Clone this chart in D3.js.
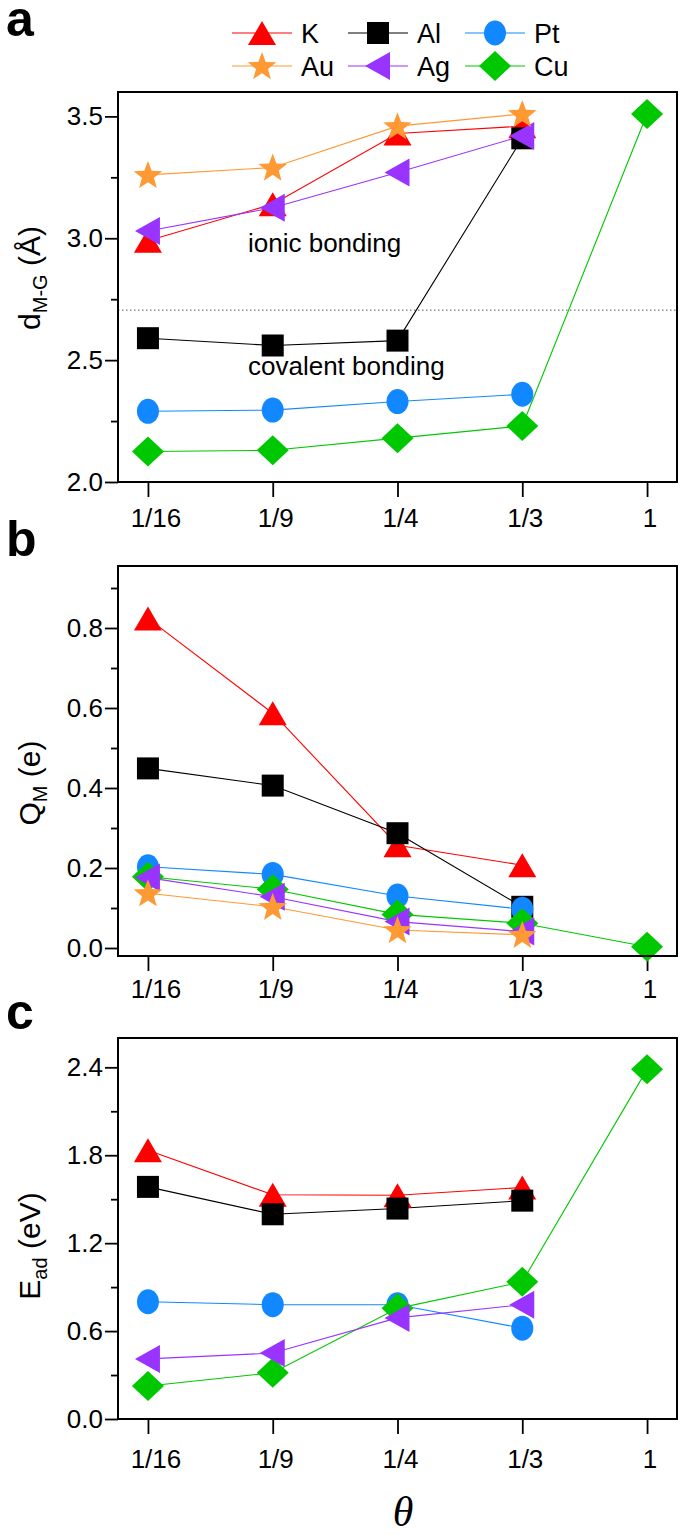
<!DOCTYPE html>
<html><head><meta charset="utf-8">
<script src="https://cdn.jsdelivr.net/npm/d3@7"></script>
<style>
body{margin:0;background:#fff;}
svg{display:block;font-family:"Liberation Sans",Arial,sans-serif;}
</style></head>
<body>
<svg id="chart" width="685" height="1535"></svg>
<script>
// ---- data ----
const categories = ["1/16", "1/9", "1/4", "1/3", "1"];
const seriesNames = ["K", "Al", "Pt", "Au", "Ag", "Cu"];
const seriesColors = ["#ff0000", "#000000", "#1188ff", "#ff9933", "#9933ff", "#00c800"];
const seriesShapes = ["triUp", "square", "circle", "star", "triLeft", "diamond"];

// panel a: d_M-G (Å)
const dK  = [2.99, 3.14, 3.43, 3.46, null];
const dAl = [2.59, 2.56, 2.58, 3.41, null];
const dPt = [2.29, 2.295, 2.33, 2.36, null];
const dAu = [3.26, 3.29, 3.46, 3.51, null];
const dAg = [3.03, 3.125, 3.27, 3.42, null];
const dCu = [2.125, 2.13, 2.18, 2.23, 3.51];

// panel b: Q_M (e)
const qK  = [0.824, 0.587, 0.257, 0.207, null];
const qAl = [0.449, 0.406, 0.287, 0.103, null];
const qPt = [0.203, 0.184, 0.130, 0.097, null];
const qAu = [0.137, 0.103, 0.045, 0.033, null];
const qAg = [0.176, 0.128, 0.066, 0.041, null];
const qCu = [0.178, 0.147, 0.084, 0.062, 0.003];

// panel c: E_ad (eV)
const eK  = [1.834, 1.53, 1.527, 1.58, null];
const eAl = [1.584, 1.397, 1.436, 1.49, null];
const ePt = [0.80, 0.78, 0.78, 0.62, null];
const eAu = [null, null, null, null, null];
const eAg = [0.41, 0.45, 0.69, 0.78, null];
const eCu = [0.225, 0.316, 0.755, 0.936, 2.386];

const ticksA = [2.0, 2.5, 3.0, 3.5], minorA = [2.25, 2.75, 3.25];
const ticksB = [0.0, 0.2, 0.4, 0.6, 0.8], minorB = [0.1, 0.3, 0.5, 0.7, 0.9];
const ticksC = [0.0, 0.6, 1.2, 1.8, 2.4], minorC = [0.3, 0.9, 1.5, 2.1];

// ---- drawing ----
const svg = d3.select("#chart");
const FONT = "'Liberation Sans', Arial, sans-serif";
const xLeft = 118, xRight = 677;
const x = d3.scalePoint().domain(categories).range([xLeft, xRight]).padding(0.24);

function shapePath(shape) {
  switch (shape) {
    case "triUp": return "M0,-12L14,12L-14,12Z";
    case "square": return "M-11,-11H11V11H-11Z";
    case "triLeft": return "M-13,0L12,-14L12,14Z";
    case "diamond": return "M0,-15L16,0L0,15L-16,0Z";
    case "circle": return "M-11,0A11,12.5 0 1,0 11,0A11,12.5 0 1,0 -11,0Z";
    case "star": {
      const pts = [];
      for (let i = 0; i < 10; i++) {
        const r = i % 2 === 0 ? 15 : 6.3;
        const a = -Math.PI / 2 + i * Math.PI / 5;
        pts.push([r * Math.cos(a), r * Math.sin(a) + 1]);
      }
      return "M" + pts.map(p => p[0].toFixed(2) + "," + p[1].toFixed(2)).join("L") + "Z";
    }
  }
}

const panels = [
  {label: "a", labelY: 36, top: 92, bottom: 482, domain: [2.0, 3.6], ticks: ticksA, minor: minorA, fmt: d3.format(".1f"),
   data: [dK, dAl, dPt, dAu, dAg, dCu], xLabY: 527, titleY: 278,
   title: [["d", null], ["M-G", "sub"], [" (Å)", null]]},
  {label: "b", labelY: 556, top: 566, bottom: 956, domain: [-0.02, 0.955], ticks: ticksB, minor: minorB, fmt: d3.format(".1f"),
   data: [qK, qAl, qPt, qAu, qAg, qCu], xLabY: 998, titleY: 783,
   title: [["Q", null], ["M", "sub"], [" (e)", null]]},
  {label: "c", labelY: 1029, top: 1038, bottom: 1419, domain: [0, 2.6], ticks: ticksC, minor: minorC, fmt: d3.format(".1f"),
   data: [eK, eAl, ePt, eAu, eAg, eCu], xLabY: 1468, titleY: 1246,
   title: [["E", null], ["ad", "sub"], [" (eV)", null]]}
];

const drawOrder = [0, 1, 2, 5, 4, 3];

panels.forEach(p => {
  const y = d3.scaleLinear().domain(p.domain).range([p.bottom, p.top]);
  const g = svg.append("g");

  // panel letter
  svg.append("text").attr("x", 6).attr("y", p.labelY).attr("font-size", 50).attr("font-weight", "bold")
    .attr("font-family", FONT).text(p.label);

  // y axis major
  const yAxis = d3.axisLeft(y).tickValues(p.ticks).tickFormat(p.fmt).tickSize(13).tickSizeOuter(0).tickPadding(2);
  const ya = g.append("g").attr("transform", `translate(${xLeft},0)`).call(yAxis);
  ya.select(".domain").remove();
  ya.selectAll("line").attr("stroke", "#000").attr("stroke-width", 1.8);
  ya.selectAll("text").attr("font-size", 26).attr("font-family", FONT).attr("fill", "#000");
  // y minor
  const ym = g.append("g").attr("transform", `translate(${xLeft},0)`)
    .call(d3.axisLeft(y).tickValues(p.minor).tickFormat("").tickSize(7).tickSizeOuter(0));
  ym.select(".domain").remove();
  ym.selectAll("line").attr("stroke", "#000").attr("stroke-width", 1.8);

  // x axis
  const xa = g.append("g").attr("transform", `translate(0,${p.bottom})`)
    .call(d3.axisBottom(x).tickSize(15).tickSizeOuter(0).tickFormat(""));
  xa.select(".domain").remove();
  xa.selectAll("line").attr("stroke", "#000").attr("stroke-width", 1.8);
  g.selectAll(".xlab").data(categories).join("text")
    .attr("x", d => x(d) + (d === "1/16" ? 8 : 3)).attr("y", p.xLabY)
    .attr("text-anchor", "middle").attr("font-size", 26).attr("font-family", FONT).text(d => d);

  // y title
  const t = g.append("text").attr("transform", `translate(40,${p.titleY}) rotate(-90)`)
    .attr("text-anchor", "middle").attr("font-size", 30).attr("font-family", FONT);
  p.title.forEach(([s, kind]) => {
    const ts = t.append("tspan").text(s);
    if (kind === "sub") ts.attr("font-size", 20).attr("dy", 7);
    else if (s.startsWith(" ")) ts.attr("dy", -7);
  });

  // annotations (panel a)
  if (p.label === "a") {
    g.append("line").attr("x1", xLeft).attr("x2", xRight).attr("y1", y(2.705)).attr("y2", y(2.705))
      .attr("stroke", "#555").attr("stroke-width", 1).attr("stroke-dasharray", "1.5,2.5");
    g.append("text").attr("x", 248).attr("y", 252).attr("font-size", 26).attr("font-family", FONT).text("ionic bonding");
    g.append("text").attr("x", 248).attr("y", 375).attr("font-size", 26).attr("font-family", FONT).text("covalent bonding");
  }

  // series
  const line = d3.line().defined(d => d.v !== null).x(d => x(d.c)).y(d => y(d.v));
  drawOrder.forEach(si => {
    const pts = categories.map((c, i) => ({c, v: p.data[si][i]}));
    g.append("path").datum(pts).attr("d", line).attr("fill", "none")
      .attr("stroke", seriesColors[si]).attr("stroke-width", 1.1);
  });
  drawOrder.forEach(si => {
    const pts = categories.map((c, i) => ({c, v: p.data[si][i]})).filter(d => d.v !== null);
    g.selectAll(null).data(pts).join("path")
      .attr("transform", d => `translate(${x(d.c)},${y(d.v)})`)
      .attr("d", shapePath(seriesShapes[si])).attr("fill", seriesColors[si]);
  });

  // frame
  g.append("rect").attr("x", xLeft).attr("y", p.top).attr("width", xRight - xLeft).attr("height", p.bottom - p.top)
    .attr("fill", "none").attr("stroke", "#000").attr("stroke-width", 2);
});

// legend
const legCols = [232, 348, 465];
const legRows = [33, 66];
seriesNames.forEach((name, i) => {
  const cx = legCols[i % 3], cy = legRows[Math.floor(i / 3)];
  const lg = svg.append("g");
  lg.append("line").attr("x1", cx).attr("x2", cx + 60).attr("y1", cy).attr("y2", cy)
    .attr("stroke", seriesColors[i]).attr("stroke-width", 1.2);
  lg.append("path").attr("transform", `translate(${cx + 30},${cy})`).attr("d", shapePath(seriesShapes[i]))
    .attr("fill", seriesColors[i]);
  lg.append("text").attr("x", cx + 69).attr("y", cy + 10).attr("font-size", 27).attr("font-family", FONT).text(name);
});

// theta
svg.append("text").attr("x", 403).attr("y", 1526).attr("text-anchor", "middle")
  .attr("font-family", "'Liberation Serif', 'DejaVu Serif', serif").attr("font-style", "italic")
  .attr("font-size", 42).text("θ");
</script>
</body></html>
